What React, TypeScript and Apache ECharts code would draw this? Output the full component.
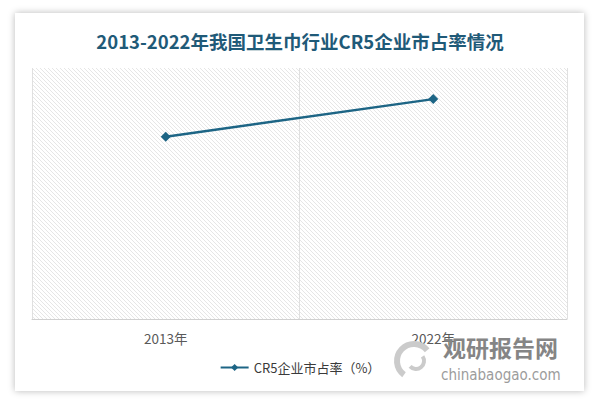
import React, { useEffect, useRef } from 'react';
import * as echarts from 'echarts';

const years = ['2013年', '2022年'];
const cr5Share = [36.3, 43.8];
const seriesName = 'CR5企业市占率（%）';
const titleText = '2013-2022年我国卫生巾行业CR5企业市占率情况';

const hatchTile =
    'data:image/svg+xml;utf8,' +
    encodeURIComponent(
        "<svg xmlns='http://www.w3.org/2000/svg' width='4' height='4'>" +
            "<path d='M-1,-1 L5,5 M-1,3 L1,5 M3,-1 L5,1' stroke='#e6e6e6' stroke-width='1'/></svg>"
    );

export default function App() {
    const chartRef = useRef<HTMLDivElement>(null);

    useEffect(() => {
        document.body.style.margin = '0';
        if (!chartRef.current) return;
        const chart = echarts.init(chartRef.current, undefined, { renderer: 'svg' });
        chart.setOption({
            animation: false,
            title: {
                text: titleText,
                left: 'center',
                top: 27,
                textStyle: {
                    color: '#1f5a78',
                    fontSize: 18.5,
                    fontWeight: 'bold',
                    fontFamily: 'Noto Sans CJK SC',
                },
            },
            grid: {
                left: 32,
                right: 33,
                top: 68,
                bottom: 88,
                show: true,
                borderWidth: 0,
                backgroundColor: { image: hatchTile, repeat: 'repeat' },
            },
            legend: {
                bottom: 28,
                left: 'center',
                itemWidth: 28,
                itemHeight: 9,
                textStyle: { color: '#3a3a3a', fontSize: 13, fontFamily: 'Noto Sans CJK SC' },
                data: [seriesName],
            },
            xAxis: {
                type: 'category',
                data: years,
                boundaryGap: true,
                axisLine: { lineStyle: { color: '#d0d0d0' } },
                axisTick: { show: false },
                splitLine: { show: true, lineStyle: { color: '#e0e0e0' } },
                axisLabel: {
                    color: '#595959',
                    fontSize: 13.5,
                    margin: 12,
                    fontFamily: 'Noto Sans CJK SC',
                },
            },
            yAxis: {
                type: 'value',
                min: 0,
                max: 50,
                show: false,
                splitLine: { show: false },
            },
            series: [
                {
                    name: seriesName,
                    type: 'line',
                    data: cr5Share,
                    symbol: 'diamond',
                    symbolSize: 10,
                    itemStyle: { color: '#1d6585' },
                    lineStyle: { color: '#1d6585', width: 2.5 },
                },
            ],
            graphic: [
                {
                    type: 'arc',
                    shape: { cx: 414, cy: 361, r: 17, startAngle: 2.2, endAngle: 5.6 },
                    style: { stroke: '#cbcbcb', lineWidth: 6, fill: 'none' },
                    z: 100,
                },
                {
                    type: 'arc',
                    shape: { cx: 416, cy: 361, r: 8, startAngle: -0.6, endAngle: 2.4 },
                    style: { stroke: '#cbcbcb', lineWidth: 4, fill: 'none' },
                    z: 100,
                },
                {
                    type: 'text',
                    left: 443,
                    top: 335,
                    style: {
                        text: '观研报告网',
                        fill: '#858585',
                        font: 'bold 23px "Noto Sans CJK SC"',
                    },
                    z: 100,
                },
                {
                    type: 'text',
                    left: 441,
                    top: 367,
                    style: {
                        text: 'chinabaogao.com',
                        fill: '#9c9c9c',
                        font: '15px "DejaVu Sans Condensed", "Liberation Sans"',
                    },
                    z: 100,
                },
            ],
        });
        return () => {
            chart.dispose();
        };
    }, []);

    return (
        <div style={{ position: 'relative', width: 600, height: 407, background: '#fff' }}>
            <div
                style={{
                    position: 'absolute',
                    left: 15,
                    top: 13,
                    width: 569,
                    height: 378,
                    background: '#fff',
                    boxShadow: '0 0 7px rgba(0,0,0,0.28)',
                }}
            />
            <div ref={chartRef} style={{ position: 'absolute', left: 0, top: 0, width: 600, height: 407 }} />
        </div>
    );
}
